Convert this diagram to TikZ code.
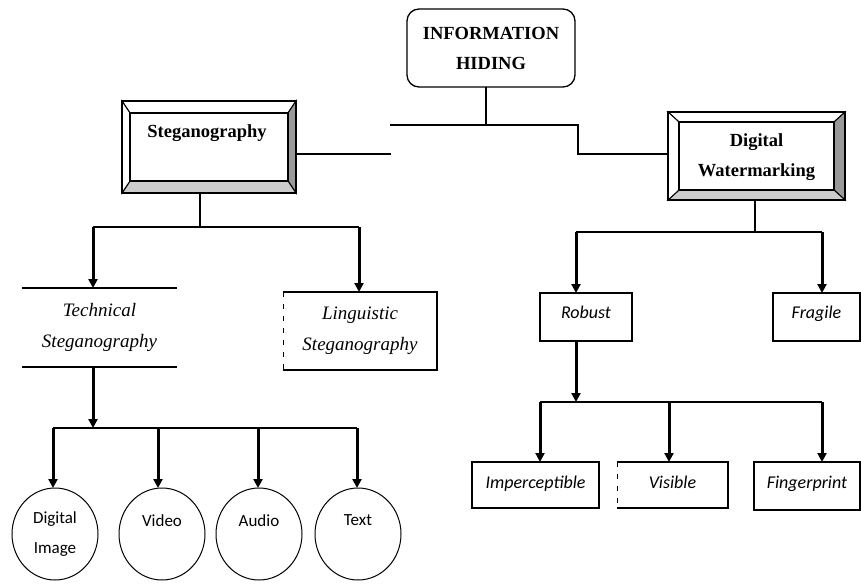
\documentclass[tikz,border=0pt]{standalone}
\usepackage{fontspec}
\setmainfont{Liberation Serif}
\newfontfamily\carl{Carlito}
\usetikzlibrary{arrows.meta,shapes.geometric}
\definecolor{bevdark}{HTML}{999999}
\definecolor{bevlight}{HTML}{CCCCCC}
\newcommand\bevelbox[3]{%
  \filldraw[fill=white,line width=1pt] (#1.north west) -- (#1.north east) -- ([shift={(-#2,#3)}]#1.north east) -- ([shift={(#2,#3)}]#1.north west) -- cycle;
  \filldraw[fill=bevdark,line width=1pt] (#1.north east) -- (#1.south east) -- ([shift={(-#2,-#3)}]#1.south east) -- ([shift={(-#2,#3)}]#1.north east) -- cycle;
  \filldraw[fill=bevlight,line width=1pt] (#1.south east) -- (#1.south west) -- ([shift={(#2,-#3)}]#1.south west) -- ([shift={(-#2,-#3)}]#1.south east) -- cycle;
  \filldraw[fill=white,line width=1pt] (#1.south west) -- (#1.north west) -- ([shift={(#2,#3)}]#1.north west) -- ([shift={(#2,-#3)}]#1.south west) -- cycle;
  \draw[line width=1.8pt] ([shift={(#2,#3)}]#1.north west) rectangle ([shift={(-#2,-#3)}]#1.south east);
  \draw[line width=2.6pt] (#1.north west) rectangle (#1.south east);
}
\begin{document}
\begin{tikzpicture}[x=1pt,y=-1pt,
  every node/.style={inner sep=0pt, outer sep=0pt},
  bold/.style={font=\bfseries\fontsize{18.5}{30}\selectfont, align=center},
  ital/.style={font=\itshape\fontsize{19}{31}\selectfont, align=center},
  sbox/.style={draw, line width=1.8pt, font=\carl\itshape\fontsize{18}{20}\selectfont},
  circ/.style={ellipse, draw, line width=1pt, minimum width=86pt, minimum height=92pt, align=center, font=\carl\fontsize{17}{30}\selectfont},
  conn/.style={line width=1.6pt},
  arr/.style={line width=3pt, -{Triangle[length=9pt,width=9pt]}}]
\useasboundingbox (0,0) rectangle (861,583);

% top node
\node[draw, rounded corners=12pt, line width=1.3pt, minimum width=168pt, minimum height=78pt, bold] (ih) at (491,48) {INFORMATION\\HIDING};

% bevel boxes
\node[minimum width=174pt, minimum height=92pt] (ste) at (209,147) {};
\bevelbox{ste}{8}{12}
\node[bold] (stet) at (207,133) {Steganography};

\node[minimum width=177pt, minimum height=88pt] (dw) at (756.5,156) {};
\bevelbox{dw}{11}{10}
\node[bold] (dwt) at (756.5,157) {Digital\\Watermarking};

% second level
\node[minimum width=155pt, minimum height=79pt, ital] (tech) at (99.5,327.5) {Technical\\Steganography};
\draw[line width=1.8pt] (tech.north west) -- (tech.north east);
\draw[line width=1.8pt] (tech.south west) -- (tech.south east);

\node[minimum width=154pt, minimum height=78pt, ital] (ling) at (360,331) {Linguistic\\Steganography};
\draw[line width=1.8pt] (ling.north west) -- (ling.north east) -- (ling.south east) -- (ling.south west);
\draw[line width=1pt, dash pattern=on 5pt off 7pt] (ling.north west) -- (ling.south west);

\node[sbox, minimum width=92pt, minimum height=48pt, text depth=10pt] (rob) at (586,317) {Robust};
\node[sbox, minimum width=87pt, minimum height=48pt, text depth=10pt] (frag) at (816.5,317) {Fragile};

% third level
\node[sbox, minimum width=127pt, minimum height=46pt, text depth=6pt] (imp) at (535.5,485) {Imperceptible};
\node[minimum width=111pt, minimum height=46pt, font=\carl\itshape\fontsize{18}{20}\selectfont, text depth=6pt] (vis) at (672.5,485) {Visible};
\draw[line width=1.8pt] (vis.north west) -- (vis.north east) -- (vis.south east) -- (vis.south west);
\draw[line width=1pt, dash pattern=on 5pt off 7pt] (vis.north west) -- (vis.south west);
\node[sbox, minimum width=106pt, minimum height=48pt, text depth=8pt] (fing) at (807,486) {Fingerprint};

% circles
\node[circ] (e1) at (55,534) {Digital\\Image};
\node[circ] (e2) at (162,534) {Video\\[-12pt]\strut};
\node[circ] (e3) at (259,534) {Audio\\[-12pt]\strut};
\node[circ] (e4) at (358,534) {Text\\[-12pt]\strut};

% connectors top
\coordinate (j1) at (486,125);
\coordinate (hl) at (390,125);
\coordinate (hr) at (578,125);
\coordinate (hr2) at (578,154);
\coordinate (hl2) at (391,154);
\draw[conn] (ih.south -| j1) -- (j1);
\draw[conn] (hl) -- (hr) -- (hr2) -- (hr2 -| dw.west);
\draw[conn] (ste.east |- hl2) -- (hl2);

% steganography branch
\coordinate (b1) at (200,227);
\coordinate (b1l) at (93,227);
\coordinate (b1r) at (359,227);
\draw[conn] (ste.south -| b1) -- (b1);
\draw[conn] (b1l) -- (b1r);
\draw[arr] (b1l) -- (tech.north -| b1l);
\draw[arr] (b1r) -- (ling.north -| b1r);

% technical branch
\coordinate (b2) at (93,428);
\draw[arr] (tech.south -| b2) -- (b2);
\coordinate (c1) at (53,428);
\coordinate (c2) at (158,428);
\coordinate (c3) at (258,428);
\coordinate (c4) at (357,428);
\draw[conn] (c1) -- (c4);
\draw[arr] (c1) -- (c1 |- e1.north);
\draw[arr] (c2) -- (c2 |- e2.north);
\draw[arr] (c3) -- (c3 |- e3.north);
\draw[arr] (c4) -- (c4 |- e4.north);

% watermarking branch
\coordinate (b3) at (755,232);
\coordinate (b3l) at (576,232);
\coordinate (b3r) at (822,232);
\draw[conn] (dw.south -| b3) -- (b3);
\draw[conn] (b3l) -- (b3r);
\draw[arr] (b3l) -- (rob.north -| b3l);
\draw[arr] (b3r) -- (frag.north -| b3r);

% robust branch
\coordinate (b4) at (576,402);
\draw[arr] (rob.south -| b4) -- (b4);
\coordinate (d1) at (540,402);
\coordinate (d2) at (669,402);
\coordinate (d3) at (822,402);
\draw[conn] (d1) -- (d3);
\draw[arr] (d1) -- (imp.north -| d1);
\draw[arr] (d2) -- (vis.north -| d2);
\draw[arr] (d3) -- (fing.north -| d3);
\end{tikzpicture}
\end{document}
